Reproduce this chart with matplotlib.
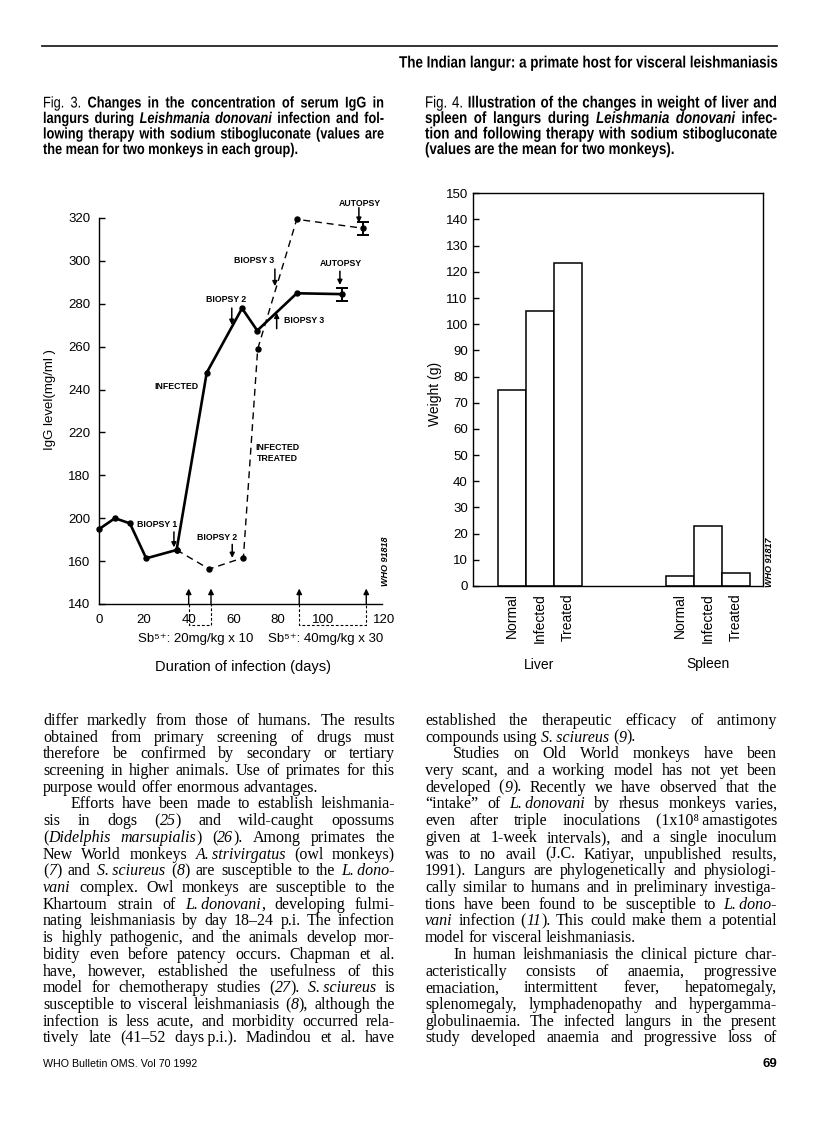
import numpy as np
import matplotlib
matplotlib.use("Agg")
import matplotlib.pyplot as plt
from matplotlib import font_manager as fm
from matplotlib.textpath import TextPath
from matplotlib.patches import PathPatch
from matplotlib.transforms import Affine2D

W, H = 816, 1134

# ---------- Fig. 3: serum IgG (mg/ml) vs duration of infection (days) ----------
infected_days = [0, 7, 13.7, 21, 34.6, 48.1, 63.9, 70.7, 88.4, 108.5]
infected_igg = [175, 180, 177.6, 161.3, 165.2, 247.9, 277.9, 267.5, 284.9, 284.5]
treated_days = [34.6, 49.2, 64.5, 70.9, 88.4, 118.2]
treated_igg = [165.2, 156.3, 161.6, 258.9, 319.4, 315.2]
end_err = 3.0

igg_ticks = [140, 160, 180, 200, 220, 240, 260, 280, 300, 320]
igg_ticklabels = ["140", "160", "200", "180", "220", "240", "260", "280", "300", "320"]
day_ticks = [0, 20, 40, 60, 80, 100, 127.5]
day_ticklabels = ["0", "20", "40", "60", "80", "100", "120"]
sb_days = [40, 50, 89.5, 119.5]   # start/end of the two Sb5+ courses

# ---------- Fig. 4: organ weight (g) ----------
groups = ["Normal", "Infected", "Treated"]
liver_weight = [75, 105, 123.5]
spleen_weight = [4, 23, 5]
weight_ticks = list(range(0, 151, 10))

SANS = ["Liberation Sans", "DejaVu Sans"]
SERIF = ["Liberation Serif", "DejaVu Serif"]
NARROW = 0.82   # horizontal squeeze used to mimic Helvetica Narrow
plt.rcParams["font.family"] = SANS

fig = plt.figure(figsize=(W / 100, H / 100), dpi=100)
renderer = fig.canvas.get_renderer()


def px(x, y):
    return x / W, 1 - y / H


def fprop(family, size, it=False, bd=False):
    return fm.FontProperties(family=family, size=size,
                             style="italic" if it else "normal",
                             weight="bold" if bd else "normal")


def width(text, fp, cx=1.0):
    return renderer.get_text_width_height_descent(text, fp, ismath=False)[0] * cx


def put(x, y, text, fp, cx=1.0, ha="left"):
    # text at baseline y (pixels from top); cx < 1 draws a condensed outline
    if cx == 1.0:
        fig.text(*px(x, y), text, fontproperties=fp, ha=ha, va="baseline")
        return
    if ha == "right":
        x -= width(text, fp, cx)
    k = 100 / 72
    tp = TextPath((0, 0), text, prop=fp)
    tr = Affine2D().scale(cx * k, k).translate(x, H - y)
    fig.add_artist(PathPatch(tp, transform=tr, fc="k", ec="none", lw=0))


def split_words(line, bold0):
    # '*' toggles italic, '#' toggles bold
    words, cur, buf = [], [], ""
    it, bd = False, bold0
    for ch in line:
        if ch in "*#":
            if buf:
                cur.append((buf, it, bd))
                buf = ""
            if ch == "*":
                it = not it
            else:
                bd = not bd
        elif ch == " ":
            if buf:
                cur.append((buf, it, bd))
                buf = ""
            if cur:
                words.append(cur)
                cur = []
        else:
            buf += ch
    if buf:
        cur.append((buf, it, bd))
    if cur:
        words.append(cur)
    return words


def layout(lines, x0, x1, family, size, bold0, indent, cx):
    out = []
    for line in lines:
        ind = line.startswith(">")
        last = line.endswith("|")
        line = line.strip(">|")
        words = split_words(line, bold0)
        ws = [[width(t, fprop(family, size, it, bd), cx) for t, it, bd in w] for w in words]
        total = sum(sum(w) for w in ws)
        left = x0 + (indent if ind else 0)
        fp0 = fprop(family, size, False, bold0)
        sp = width("x x", fp0, cx) - width("xx", fp0, cx)
        if last or len(words) < 2:
            gap = sp
        else:
            gap = (x1 - left - total) / (len(words) - 1)
        out.append((left, words, ws, gap, last))
    return out


def block(lines, x0, x1, y0, dy, family, size, bold0=False, indent=0, mingap=0.2, cx=1.0):
    s = size
    while s > 5:
        lay = layout(lines, x0, x1, family, s, bold0, indent, cx)
        em = s * 100 / 72
        if all(g >= mingap * em for _, _, _, g, last in lay if not last):
            break
        s -= 0.1
    for i, (left, words, ws, gap, last) in enumerate(lay):
        x = left
        for w, wl in zip(words, ws):
            xx = x
            for (t, it, bd), rw in zip(w, wl):
                put(xx, y0 + i * dy, t, fprop(family, s, it, bd), cx)
                xx += rw
            x += sum(wl) + gap
    return s


def fitted_text(text, x0, x1, y, family, bd=False, ha="left", cx=1.0):
    w10 = width(text, fprop(family, 10, False, bd), cx)
    s = 10 * (x1 - x0) / w10
    put(x1 if ha == "right" else x0, y, text, fprop(family, s, False, bd), cx, ha=ha)


# ---------- page header ----------
fig.add_artist(plt.Line2D([42 / W, 777 / W], [1 - 46 / H] * 2, color="#222222", lw=1.3))
fitted_text("The Indian langur: a primate host for visceral leishmaniasis", 398, 777, 67.5,
            SANS, bd=True, ha="right", cx=NARROW)

# ---------- captions ----------
cap3 = ["#Fig. 3.# Changes in the concentration of serum IgG in",
        "langurs during *Leishmania donovani* infection and fol-",
        "lowing therapy with sodium stibogluconate (values are",
        "the mean for two monkeys in each group).|"]
cap4 = ["#Fig. 4.# Illustration of the changes in weight of liver and",
        "spleen of langurs during *Leishmania donovani* infec-",
        "tion and following therapy with sodium stibogluconate",
        "(values are the mean for two monkeys).|"]
block(cap3, 43, 384, 107.5, 15.5, SANS, 12, bold0=True, mingap=0.28, cx=NARROW)
block(cap4, 425, 777, 107.5, 15.5, SANS, 12, bold0=True, mingap=0.28, cx=NARROW)

# ---------- Fig. 3 ----------
ppd = 2.234
ax = fig.add_axes([99.3 / W, 1 - 604 / H, 128 * ppd / W, 386 / H])
ax.set_xlim(0, 128)
ax.set_ylim(140, 320)
ax.plot(infected_days, infected_igg, color="k", lw=1.9, marker="o", ms=3.6, clip_on=False)
ax.plot(treated_days, treated_igg, color="k", lw=1.0, ls=(0, (5, 3.5)), marker="o", ms=3.6,
        clip_on=False)
ax.errorbar([infected_days[-1]], [infected_igg[-1]], yerr=end_err, color="k", lw=1.4,
            capsize=4, capthick=1.4, clip_on=False)
ax.errorbar([treated_days[-1]], [treated_igg[-1]], yerr=end_err, color="k", lw=1.4,
            capsize=4, capthick=1.4, clip_on=False)
for side in ["top", "right"]:
    ax.spines[side].set_visible(False)
ax.spines["bottom"].set_bounds(0, 126.5)
ax.spines["left"].set_linewidth(1.0)
ax.spines["bottom"].set_linewidth(1.0)
ax.set_yticks(igg_ticks)
ax.set_yticklabels(igg_ticklabels)
ax.set_xticks(day_ticks)
ax.set_xticklabels(day_ticklabels)
ax.tick_params(axis="y", direction="in", length=4, width=1, pad=6.5, labelsize=9.5)
ax.tick_params(axis="x", length=0, pad=7, labelsize=9.5)

arrow = dict(arrowstyle="-|>", lw=1.1, color="k", mutation_scale=7, shrinkA=0, shrinkB=0)
lab = dict(fontsize=6.3, fontweight="bold", ha="center", va="center")


def note(text, tx, ty, ax_, y0, y1, ha="center"):
    ax.text(tx, ty, text, **dict(lab, ha=ha))
    ax.annotate("", xy=(ax_, y1), xytext=(ax_, y0), arrowprops=arrow, annotation_clip=False)


note("BIOPSY 1", 25.7, 177.2, 33.4, 173.6, 166.4)
note("BIOPSY 2", 52.6, 171.1, 59.5, 167.8, 161.5)
note("BIOPSY 2", 56.6, 281.8, 59.3, 278.0, 270.2)
note("BIOPSY 3", 69.2, 300.1, 78.6, 296.2, 288.2)
note("BIOPSY 3", 82.8, 272.0, 79.4, 268.4, 275.8, ha="left")
note("AUTOPSY", 116.7, 326.9, 116.2, 324.8, 317.8)
note("AUTOPSY", 108.1, 298.6, 107.7, 295.2, 288.8)
ax.text(34.6, 241.4, "INFECTED", **lab)
ax.text(79.8, 210.4, "INFECTED\nTREATED", linespacing=1.25, **lab)

for d in sb_days:
    ax.annotate("", xy=(d, 147.2), xytext=(d, 140), arrowprops=dict(arrow, lw=1.0, mutation_scale=8),
                annotation_clip=False)
for d0, d1 in [sb_days[:2], sb_days[2:]]:
    ax.plot([d0, d0, d1, d1], [140, 130.3, 130.3, 140], color="k", lw=0.8, ls=(0, (2.5, 1.8)),
            clip_on=False)
ax.text(43.1, 123.6, "Sb⁵⁺: 20mg/kg x 10", fontsize=9.5, ha="center", va="center")
ax.text(101.3, 123.6, "Sb⁵⁺: 40mg/kg x 30", fontsize=9.5, ha="center", va="center")
fig.text(*px(243, 667), "Duration of infection (days)", fontsize=10.5, ha="center", va="center")
fig.text(*px(50, 400), "IgG level(mg/ml )", fontsize=9.5, rotation=90, ha="center", va="center")
fig.text(*px(386, 561), "WHO 91818", fontsize=6.5, style="italic", fontweight="bold",
         rotation=90, ha="center", va="center")

# ---------- Fig. 4 ----------
bx = fig.add_axes([473.3 / W, 1 - 586 / H, 289.4 / W, 392.7 / H])
liver_x = np.arange(len(groups))
spleen_x = liver_x + 6
bx.bar(liver_x, liver_weight, width=1.0, color="white", edgecolor="k", lw=1.1)
bx.bar(spleen_x, spleen_weight, width=1.0, color="white", edgecolor="k", lw=1.1)
bx.set_xlim(-1.39, 8.95)
bx.set_ylim(0, 150)
bx.set_yticks(weight_ticks)
bx.set_xticks(list(liver_x) + list(spleen_x))
bx.set_xticklabels(groups + groups, rotation=90, fontsize=10)
bx.tick_params(axis="y", direction="in", length=4, width=1, pad=4, labelsize=9.5)
bx.tick_params(axis="x", length=0, pad=5)
for sp in bx.spines.values():
    sp.set_linewidth(1.0)
fig.text(*px(539, 665), "Liver", fontsize=10, ha="center", va="center")
fig.text(*px(708, 664), "Spleen", fontsize=10, ha="center", va="center")
fig.text(*px(435, 394), "Weight (g)", fontsize=10, rotation=90, ha="center", va="center")
fig.text(*px(770, 562), "WHO 91817", fontsize=6.5, style="italic", fontweight="bold",
         rotation=90, ha="center", va="center")

# ---------- body text ----------
left_col = [
    "differ markedly from those of humans. The results",
    "obtained from primary screening of drugs must",
    "therefore be confirmed by secondary or tertiary",
    "screening in higher animals. Use of primates for this",
    "purpose would offer enormous advantages.|",
    ">Efforts have been made to establish leishmania-",
    "sis in dogs (*25*) and wild-caught opossums",
    "(*Didelphis marsupialis*) (*26*). Among primates the",
    "New World monkeys *A.\u2009strivirgatus* (owl monkeys)",
    "(*7*) and *S.\u2009sciureus* (*8*) are susceptible to the *L.\u2009dono-*",
    "*vani* complex. Owl monkeys are susceptible to the",
    "Khartoum strain of *L.\u2009donovani*, developing fulmi-",
    "nating leishmaniasis by day 18–24 p.i. The infection",
    "is highly pathogenic, and the animals develop mor-",
    "bidity even before patency occurs. Chapman et al.",
    "have, however, established the usefulness of this",
    "model for chemotherapy studies (*27*). *S.\u2009sciureus* is",
    "susceptible to visceral leishmaniasis (*8*), although the",
    "infection is less acute, and morbidity occurred rela-",
    "tively late (41–52 days\u2009p.i.). Madindou et al. have",
]
right_col = [
    "established the therapeutic efficacy of antimony",
    "compounds using *S.\u2009sciureus* (*9*).|",
    ">Studies on Old World monkeys have been",
    "very scant, and a working model has not yet been",
    "developed (*9*). Recently we have observed that the",
    "“intake” of *L.\u2009donovani* by rhesus monkeys varies,",
    "even after triple inoculations (1x10⁸\u2009amastigotes",
    "given at 1-week intervals), and a single inoculum",
    "was to no avail (J.C. Katiyar, unpublished results,",
    "1991). Langurs are phylogenetically and physiologi-",
    "cally similar to humans and in preliminary investiga-",
    "tions have been found to be susceptible to *L.\u2009dono-*",
    "*vani* infection (*11*). This could make them a potential",
    "model for visceral leishmaniasis.|",
    ">In human leishmaniasis the clinical picture char-",
    "acteristically consists of anaemia, progressive",
    "emaciation, intermittent fever, hepatomegaly,",
    "splenomegaly, lymphadenopathy and hypergamma-",
    "globulinaemia. The infected langurs in the present",
    "study developed anaemia and progressive loss of",
]
block(left_col, 43, 395, 725, 16.7, SERIF, 11.5, indent=28, mingap=0.15)
block(right_col, 425, 777, 725, 16.7, SERIF, 11.5, indent=28, mingap=0.15)

# ---------- footer ----------
fitted_text("WHO Bulletin OMS. Vol 70 1992", 43, 196, 1067, SANS)
fig.text(*px(777, 1067), "69", fontsize=9.5, fontweight="bold", ha="right", va="baseline")

fig.savefig("out.png", dpi=100)
